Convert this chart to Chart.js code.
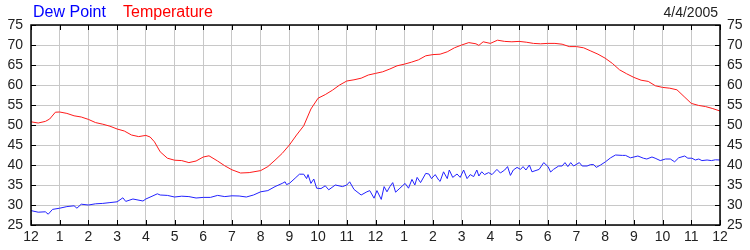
<!DOCTYPE html>
<html>
<head>
<meta charset="utf-8">
<script src="https://cdn.jsdelivr.net/npm/chart.js@4/dist/chart.umd.min.js"></script>
<style>
  html, body { margin: 0; padding: 0; background: #fff; }
  #wrap { width: 750px; height: 250px; }
</style>
</head>
<body>
<div id="wrap"><canvas id="chart"></canvas></div>
<script>
const dateLabel = '4/4/2005';
const seriesNames = ['Dew Point', 'Temperature'];
const yTicks = [25, 30, 35, 40, 45, 50, 55, 60, 65, 70, 75];
const hourLabels = ['12', '1', '2', '3', '4', '5', '6', '7', '8', '9', '10', '11',
                    '12', '1', '2', '3', '4', '5', '6', '7', '8', '9', '10', '11', '12'];

// temperature, hours since midnight
const tempHours = [0, 0.25, 0.5, 0.65, 0.85, 1.0, 1.25, 1.5, 1.75, 2.0, 2.25, 2.5, 2.75, 3.0, 3.25, 3.5, 3.75,
  4.0, 4.15, 4.3, 4.5, 4.75, 5.0, 5.25, 5.5, 5.75, 6.0, 6.2, 6.5, 6.75, 7.0, 7.3, 7.6, 8.0, 8.25, 8.5, 8.75,
  9.0, 9.25, 9.5, 9.75, 10.0, 10.25, 10.5, 10.75, 11.0, 11.25, 11.5, 11.75, 12.0, 12.25, 12.5, 12.75, 13.0,
  13.25, 13.5, 13.75, 14.0, 14.25, 14.5, 14.75, 15.0, 15.25, 15.5, 15.6, 15.75, 16.0, 16.25, 16.5, 16.75,
  17.0, 17.25, 17.5, 17.75, 18.0, 18.25, 18.5, 18.75, 19.0, 19.25, 19.5, 19.75, 20.0, 20.25, 20.5, 20.75,
  21.0, 21.25, 21.5, 21.75, 22.0, 22.25, 22.5, 22.75, 23.0, 23.25, 23.5, 23.75, 24.0];
const tempValues = [50.8, 50.5, 50.9, 51.5, 53.2, 53.25, 52.9, 52.3, 52.0, 51.4, 50.6, 50.2, 49.7, 49.0, 48.5, 47.5, 47.1,
  47.4, 47.0, 45.8, 43.3, 41.7, 41.2, 41.1, 40.6, 41.0, 42.0, 42.3, 41.0, 39.8, 38.8, 38.0, 38.1, 38.6, 39.6, 41.2, 42.9,
  45.0, 47.5, 49.8, 54.0, 56.7, 57.6, 58.7, 60.0, 61.0, 61.3, 61.7, 62.5, 62.9, 63.3, 64.0, 64.8, 65.2,
  65.7, 66.3, 67.3, 67.6, 67.7, 68.3, 69.3, 70.0, 70.6, 70.3, 69.9, 70.8, 70.4, 71.2, 70.9, 70.8,
  70.9, 70.7, 70.4, 70.3, 70.4, 70.4, 70.2, 69.6, 69.6, 69.3, 68.5, 67.7, 66.7, 65.4, 63.8, 62.8,
  61.9, 61.2, 60.9, 59.8, 59.4, 59.2, 58.8, 57.1, 55.4, 54.9, 54.6, 54.1, 53.5];

// dew point, hours since midnight
const dewHours = [0, 0.25, 0.5, 0.6, 0.75, 1.0, 1.25, 1.5, 1.6, 1.75, 2.0, 2.25, 2.5, 2.75, 3.0, 3.2, 3.3, 3.55,
  3.9, 4.0, 4.25, 4.4, 4.5, 4.75, 5.0, 5.25, 5.5, 5.75, 6.0, 6.25, 6.5, 6.75, 7.0, 7.25, 7.5, 7.75, 8.0, 8.25,
  8.5, 8.75, 8.85, 8.9, 9.0, 9.2, 9.35, 9.5, 9.6, 9.65, 9.75, 9.85, 9.95, 10.1, 10.25, 10.37, 10.6, 10.85,
  11.0, 11.1, 11.25, 11.5, 11.7, 11.8, 11.95, 12.05, 12.2, 12.3, 12.4, 12.5, 12.6, 12.7, 12.85, 13.03, 13.15,
  13.27, 13.37, 13.45, 13.57, 13.75, 13.86, 13.95, 14.08, 14.2, 14.25, 14.37, 14.5, 14.57, 14.69, 14.84,
  14.95, 15.07, 15.19, 15.3, 15.42, 15.53, 15.6, 15.7, 15.8, 15.94, 16.06, 16.23, 16.35, 16.5, 16.6, 16.7,
  16.8, 16.93, 17.05, 17.14, 17.24, 17.36, 17.45, 17.7, 17.86, 18.01, 18.1, 18.2, 18.38, 18.5, 18.6, 18.7,
  18.8, 18.9, 19.1, 19.2, 19.37, 19.49, 19.6, 19.69, 19.84, 20.01, 20.19, 20.36, 20.6, 20.71, 20.88, 21.0,
  21.14, 21.33, 21.45, 21.63, 21.74, 21.92, 22.1, 22.27, 22.42, 22.56, 22.77, 22.88, 23.02, 23.14, 23.26,
  23.37, 23.55, 23.7, 23.84, 24.0];
const dewValues = [28.6, 28.2, 28.3, 27.7, 28.9, 29.2, 29.6, 29.8, 29.2, 30.2, 30.0, 30.3, 30.4, 30.6, 30.8, 31.8, 30.9, 31.5,
  31.0, 31.5, 32.3, 32.8, 32.5, 32.4, 32.0, 32.2, 32.1, 31.75, 31.9, 31.9, 32.4, 32.1, 32.3, 32.25, 32.0, 32.5, 33.3, 33.6,
  34.6, 35.4, 35.8, 35.1, 35.4, 36.7, 37.7, 37.7, 36.6, 37.6, 35.4, 36.5, 34.2, 34.1, 34.8, 33.8, 35.0, 34.6,
  35.0, 35.8, 33.9, 32.5, 33.3, 33.6, 31.7, 33.6, 31.4, 34.6, 33.3, 34.6, 35.6, 33.2, 34.2, 35.4, 34.2,
  36.4, 35.0, 36.9, 35.6, 37.9, 37.75, 36.6, 37.6, 36.25, 35.9, 38.3, 36.6, 38.75, 36.9, 37.75,
  36.9, 38.75, 36.6, 37.6, 37.1, 38.75, 37.25, 38.3, 37.6, 38.1, 37.6, 38.9, 38.0, 38.75, 39.6, 37.4,
  38.75, 39.4, 38.9, 39.6, 38.75, 40.0, 38.3, 38.9, 40.6, 39.6, 38.25, 38.9, 39.75, 39.75, 40.6, 39.6,
  40.6, 39.75, 40.6, 39.75, 39.75, 40.1, 40.1, 39.4, 40.0, 40.8, 41.8, 42.5, 42.4, 42.4, 41.8, 42.0,
  42.25, 41.7, 41.5, 42.0, 41.7, 41.1, 41.5, 41.5, 40.8, 41.8, 42.25, 41.7, 41.7, 41.25, 41.5,
  41.1, 41.25, 41.1, 41.3, 41.25];

const toPoints = (xs, ys) => xs.map((x, i) => ({ x: x, y: ys[i] }));

// frame, inward tick marks and header texts
const framePlugin = {
  id: 'frame',
  afterDraw(chart) {
    const ctx = chart.ctx;
    const a = chart.chartArea;
    const xs = chart.scales.x;
    const ys = chart.scales.y;
    ctx.save();
    ctx.strokeStyle = '#000';
    ctx.lineWidth = 1;
    ctx.beginPath();
    xs.ticks.forEach(t => {
      const px = Math.round(xs.getPixelForValue(t.value)) + 0.5;
      ctx.moveTo(px, a.top); ctx.lineTo(px, a.top + 5);
      ctx.moveTo(px, a.bottom); ctx.lineTo(px, a.bottom - 5);
    });
    ys.ticks.forEach(t => {
      const py = Math.round(ys.getPixelForValue(t.value)) + 0.5;
      ctx.moveTo(a.left, py); ctx.lineTo(a.left + 5, py);
      ctx.moveTo(a.right, py); ctx.lineTo(a.right - 5, py);
    });
    ctx.stroke();
    ctx.lineWidth = 1.5;
    ctx.strokeRect(a.left, a.top, a.right - a.left, a.bottom - a.top);

    ctx.font = '16px "Liberation Sans", Arial, sans-serif';
    ctx.textBaseline = 'alphabetic';
    ctx.textAlign = 'left';
    ctx.fillStyle = '#0000ff';
    ctx.fillText(seriesNames[0], 33, 17);
    ctx.fillStyle = '#ff0000';
    ctx.fillText(seriesNames[1], 123, 17);
    ctx.font = '14px "Liberation Sans", Arial, sans-serif';
    ctx.fillStyle = '#222';
    ctx.textAlign = 'right';
    ctx.fillText(dateLabel, a.right - 2, 17);
    ctx.restore();
  }
};

const tickFont = { family: '"Liberation Sans", Arial, sans-serif', size: 14 };

new Chart(document.getElementById('chart'), {
  type: 'line',
  data: {
    datasets: [{
      label: seriesNames[0],
      data: toPoints(dewHours, dewValues),
      borderColor: '#2222ff',
      borderWidth: 1,
      pointRadius: 0,
      tension: 0
    }, {
      label: seriesNames[1],
      data: toPoints(tempHours, tempValues),
      borderColor: '#ff1a1a',
      borderWidth: 1,
      pointRadius: 0,
      tension: 0
    }]
  },
  options: {
    responsive: true,
    maintainAspectRatio: false,
    animation: false,
    layout: { padding: { top: 25, left: 0, right: 0, bottom: 0 } },
    plugins: { legend: { display: false }, tooltip: { enabled: false } },
    scales: {
      x: {
        type: 'linear',
        min: 0,
        max: 24,
        afterFit: s => { s.height = 25; },
        ticks: {
          stepSize: 1,
          padding: 4,
          color: '#222',
          font: tickFont,
          autoSkip: false,
          maxRotation: 0,
          callback: v => hourLabels[v]
        },
        grid: { color: '#c8c8c8', drawTicks: false },
        border: { display: false }
      },
      y: {
        position: 'left',
        min: 25,
        max: 75,
        afterFit: s => { s.width = 31; },
        afterBuildTicks: s => { s.ticks = yTicks.map(v => ({ value: v })); },
        ticks: { padding: 8, color: '#222', font: tickFont },
        grid: { color: '#c8c8c8', drawTicks: false },
        border: { display: false }
      },
      y2: {
        position: 'right',
        min: 25,
        max: 75,
        afterFit: s => { s.width = 30; },
        afterBuildTicks: s => { s.ticks = yTicks.map(v => ({ value: v })); },
        ticks: { padding: 7, color: '#222', font: tickFont },
        grid: { display: false, drawTicks: false },
        border: { display: false }
      }
    }
  },
  plugins: [framePlugin]
});
</script>
</body>
</html>
